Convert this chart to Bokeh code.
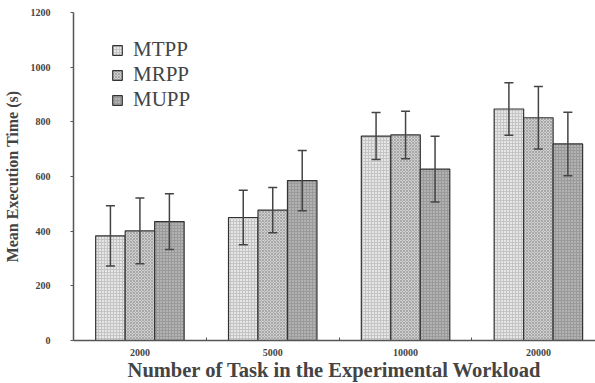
from bokeh.plotting import figure
from bokeh.models import (ColumnDataSource, FixedTicker, Whisker, Legend, LegendItem, Range1d)
from bokeh.embed import file_html
from bokeh.resources import INLINE

categories = ["2000", "5000", "10000", "20000"]
series = ["MTPP", "MRPP", "MUPP"]
mtpp = [383, 450, 748, 847]
mrpp = [401, 477, 752, 815]
mupp = [435, 585, 627, 719]
mtpp_err = [110, 100, 86, 96]
mrpp_err = [120, 83, 87, 114]
mupp_err = [102, 110, 120, 116]

values = [mtpp, mrpp, mupp]
errors = [mtpp_err, mrpp_err, mupp_err]
fills = ["#e6e6e6", "#cfcfcf", "#9a9a9a"]
hatches = ["+", "x", "dot"]
hatch_colors = ["#c4c4c4", "#a8a8a8", "#d6d6d6"]

FONT = "Liberation Serif"

p = figure(width=595, height=383, output_backend="svg", toolbar_location=None,
           x_range=Range1d(0, 3.93), y_range=Range1d(0, 1200),
           min_border_left=72, min_border_right=0, min_border_top=12, min_border_bottom=42)
p.outline_line_color = None
p.grid.grid_line_color = None
p.background_fill_color = "white"

bw = 0.222
offsets = [-bw, 0.0, bw]
centers = [i + 0.5 for i in range(len(categories))]

renderers = []
for k, name in enumerate(series):
    xs = [c + offsets[k] for c in centers]
    src = ColumnDataSource(dict(
        x=xs, top=values[k],
        upper=[v + e for v, e in zip(values[k], errors[k])],
        lower=[v - e for v, e in zip(values[k], errors[k])],
    ))
    r = p.vbar(x="x", top="top", width=bw, source=src,
               fill_color=fills[k], line_color="#333333", line_width=1.2,
               hatch_pattern=hatches[k], hatch_color=hatch_colors[k],
               hatch_scale=3, hatch_weight=1)
    renderers.append(r)
    w = Whisker(base="x", upper="upper", lower="lower", source=src,
                line_color="#444444", line_width=1.5, level="overlay")
    for h in (w.upper_head, w.lower_head):
        h.size = 9
        h.line_color = "#444444"
        h.line_width = 1.5
    p.add_layout(w)

# axes
p.xaxis.ticker = FixedTicker(ticks=centers, minor_ticks=[1, 2, 3])
p.xaxis.major_label_overrides = {c: lab for c, lab in zip(centers, categories)}
p.xaxis.major_tick_line_color = None
p.xaxis.major_tick_in = 0
p.xaxis.major_tick_out = 0
p.xaxis.minor_tick_in = 3
p.xaxis.minor_tick_out = 0
p.xaxis.minor_tick_line_color = "#555555"
p.xaxis.axis_line_color = "#555555"
p.xaxis.axis_line_width = 1.5
p.xaxis.major_label_text_font = FONT
p.xaxis.major_label_text_font_style = "bold"
p.xaxis.major_label_text_font_size = "10px"
p.xaxis.major_label_standoff = 8
p.xaxis.axis_label = "Number of Task in the Experimental Workload"
p.xaxis.axis_label_text_font = FONT
p.xaxis.axis_label_text_font_style = "bold"
p.xaxis.axis_label_text_font_size = "20.5px"
p.xaxis.axis_label_standoff = 0

p.yaxis.ticker = FixedTicker(ticks=[0, 200, 400, 600, 800, 1000, 1200], minor_ticks=[])
p.yaxis.major_tick_in = 0
p.yaxis.major_tick_out = 3
p.yaxis.major_tick_line_color = "#555555"
p.yaxis.axis_line_color = "#555555"
p.yaxis.axis_line_width = 1.5
p.yaxis.major_label_text_font = FONT
p.yaxis.major_label_text_font_style = "bold"
p.yaxis.major_label_text_font_size = "10px"
p.yaxis.major_label_standoff = 20
p.yaxis.axis_label = "Mean Execution Time (s)"
p.yaxis.axis_label_text_font = FONT
p.yaxis.axis_label_text_font_style = "bold"
p.yaxis.axis_label_text_font_size = "16px"
p.yaxis.axis_label_standoff = 7

legend = Legend(items=[LegendItem(label=n, renderers=[r]) for n, r in zip(series, renderers)],
                location=(38, 228), padding=0, margin=0, spacing=0,
                label_height=21, glyph_height=12, glyph_width=12,
                label_text_font=FONT, label_text_font_size="21px",
                label_standoff=10,
                border_line_color=None, background_fill_alpha=0)
p.add_layout(legend)

open("out.html", "w").write(file_html(p, INLINE))
